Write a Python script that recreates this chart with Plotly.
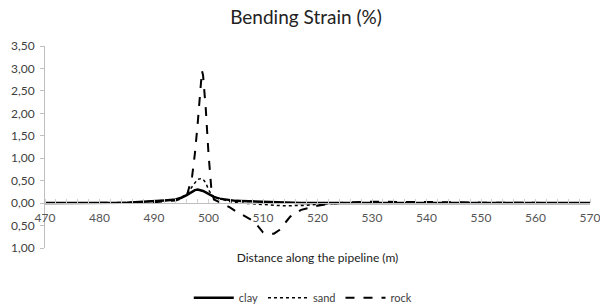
import plotly.graph_objects as go

distance = [470, 475, 480, 485, 488, 490, 492, 494, 495, 496, 497, 497.5, 498, 498.5,
            498.8, 499, 499.5, 500, 500.5, 501, 502, 503, 504, 505, 506, 507, 508, 509,
            510, 511, 512, 513, 514, 515, 516, 517, 518, 520, 522, 524, 526, 530, 535,
            540, 545, 550, 555, 560, 565, 570]

clay = [0, 0, 0, 0.01, 0.03, 0.04, 0.06, 0.08, 0.12, 0.18, 0.26, 0.29, 0.30, 0.29,
        0.28, 0.27, 0.24, 0.21, 0.17, 0.14, 0.10, 0.08, 0.06, 0.05, 0.045, 0.04, 0.035, 0.03,
        0.025, 0.02, 0.02, 0.015, 0.015, 0.01, 0.01, 0.005, 0.005, 0, 0, 0, 0, 0, 0,
        0, 0, 0, 0, 0, 0, 0]

sand = [0, 0, 0, 0.01, 0.03, 0.04, 0.06, 0.08, 0.12, 0.2, 0.35, 0.45, 0.53, 0.55,
        0.55, 0.53, 0.45, 0.3, 0.2, 0.14, 0.1, 0.06, 0.03, 0.01, 0, -0.01, -0.02, -0.03,
        -0.04, -0.045, -0.05, -0.055, -0.06, -0.06, -0.06, -0.055, -0.05, -0.03, -0.01, 0, 0, 0, 0,
        0, 0, 0, 0, 0, 0, 0]

rock = [0, 0, 0, 0, 0.01, 0.02, 0.04, 0.06, 0.1, 0.15, 0.6, 1.1, 1.75, 2.6,
        2.95, 2.85, 2.1, 1.1, 0.35, 0.08, 0.02, -0.05, -0.1, -0.18, -0.25, -0.32, -0.38, -0.5,
        -0.65, -0.68, -0.68, -0.6, -0.45, -0.3, -0.22, -0.15, -0.12, -0.06, -0.02, 0, 0.02, 0.03, 0.03,
        0.03, 0.02, 0.01, 0.005, 0, 0, 0]

y_tickvals = [3.5, 3.0, 2.5, 2.0, 1.5, 1.0, 0.5, 0.0, -0.5, -1.0]
y_ticktext = ["3,50", "3,00", "2,50", "2,00", "1,50", "1,00", "0,50", "0,00", "0,50", "1,00"]
x_tickvals = [470, 480, 490, 500, 510, 520, 530, 540, 550, 560, 570]

FONT = "Lato"

fig = go.Figure()
fig.add_trace(go.Scatter(x=distance, y=clay, name="clay", mode="lines",
                         line=dict(color="black", width=2.5)))
fig.add_trace(go.Scatter(x=distance, y=sand, name="sand", mode="lines",
                         line=dict(color="black", width=1.5, dash="dot")))
fig.add_trace(go.Scatter(x=distance, y=rock, name="rock", mode="lines",
                         line=dict(color="black", width=2, dash="dash")))

ymin, ymax = -1.0, 3.5
fig.update_layout(
    width=600, height=308,
    margin=dict(l=45, r=10, t=46, b=60),
    paper_bgcolor="white", plot_bgcolor="white",
    font=dict(family=FONT, size=11, color="#404040"),
    title=dict(text="Bending Strain (%)", x=0.51, xanchor="center",
               y=0.943, yanchor="middle", yref="container",
               font=dict(family=FONT, size=19, color="#222222")),
    showlegend=True,
    legend=dict(orientation="h", x=0.473, xanchor="center",
                y=0.033, yanchor="middle", yref="container",
                font=dict(family=FONT, size=11, color="#404040"),
                itemwidth=40, tracegroupgap=0),
    xaxis=dict(range=[470, 570], tickvals=x_tickvals, ticktext=[str(v) for v in x_tickvals],
               anchor="free", position=(0 - ymin) / (ymax - ymin),
               automargin=False, ticklabeloverflow="allow",
               showline=True, linecolor="#bfbfbf", linewidth=1,
               showgrid=False, zeroline=False,
               ticks="outside", ticklen=3, tickcolor="rgba(0,0,0,0)",
               minor=dict(dtick=2, ticks="inside", ticklen=4, tickcolor="#d0d0d0"),
               tickfont=dict(family=FONT, size=12, color="#555555"),
               title=dict(text="Distance along the pipeline (m)", standoff=30,
                          font=dict(family=FONT, size=12, color="#222222"))),
    yaxis=dict(range=[ymin, ymax], tickvals=y_tickvals, ticktext=y_ticktext,
               automargin=False, ticklabelstandoff=3,
               showline=True, linecolor="#bfbfbf", linewidth=1,
               showgrid=False, zeroline=False, ticks="outside", ticklen=4,
               tickcolor="#bfbfbf",
               tickfont=dict(family=FONT, size=12, color="#404040")),
)

fig.write_html("out.html", config={"displayModeBar": False},
               post_script="document.body.style.margin='0';")
